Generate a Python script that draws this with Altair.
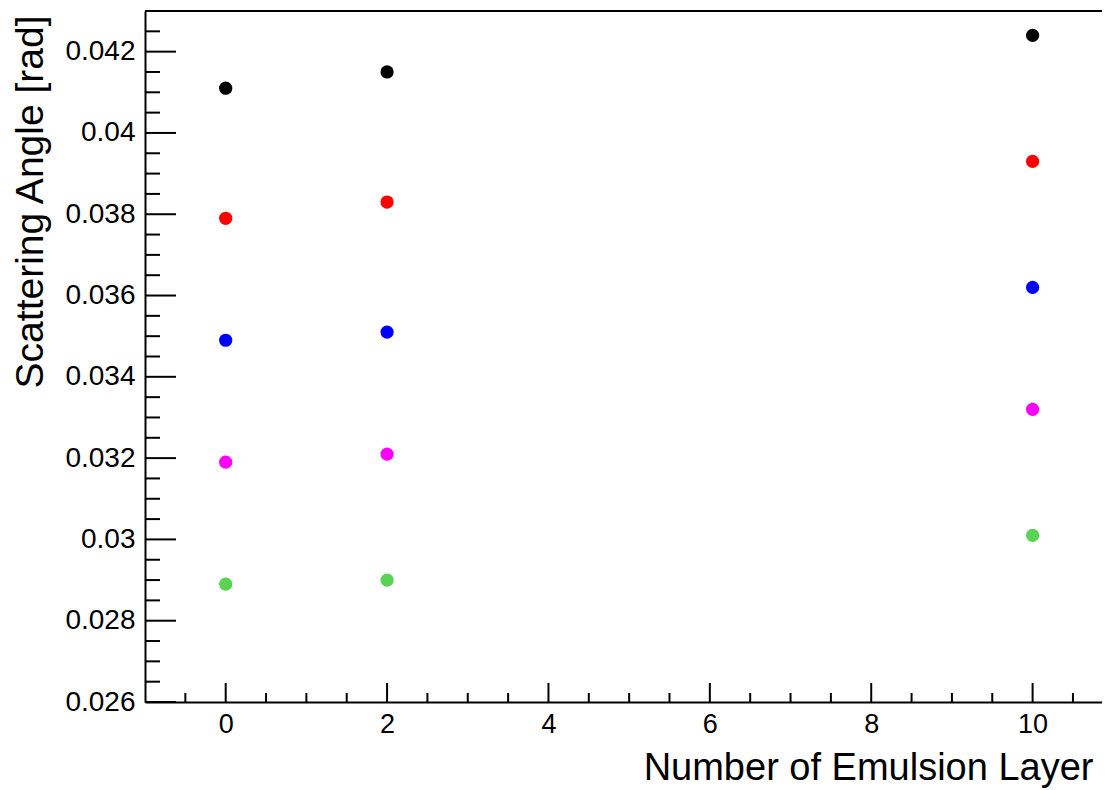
import altair as alt
import pandas as pd

layers = [0, 2, 10]
series_names = ["s1", "s2", "s3", "s4", "s5"]
series_colors = ["#000000", "#ff0000", "#0000ff", "#ff00ff", "#59d354"]
s1 = [0.04110, 0.04150, 0.04240]
s2 = [0.03790, 0.03830, 0.03930]
s3 = [0.03490, 0.03510, 0.03620]
s4 = [0.03190, 0.03210, 0.03320]
s5 = [0.02890, 0.02900, 0.03010]

y_major = [0.026, 0.028, 0.030, 0.032, 0.034, 0.036, 0.038, 0.040, 0.042]
y_minor = [0.0265, 0.027, 0.0275, 0.0285, 0.029, 0.0295, 0.0305, 0.031, 0.0315,
           0.0325, 0.033, 0.0335, 0.0345, 0.035, 0.0355, 0.0365, 0.037, 0.0375,
           0.0385, 0.039, 0.0395, 0.0405, 0.041, 0.0415, 0.0425]
x_major = [0, 2, 4, 6, 8, 10]
x_minor = [-0.5, 0.5, 1, 1.5, 2.5, 3, 3.5, 4.5, 5, 5.5, 6.5, 7, 7.5, 8.5, 9, 9.5, 10.5]

rows = []
for name, vals in zip(series_names, [s1, s2, s3, s4, s5]):
    for x, v in zip(layers, vals):
        rows.append({"layer": x, "angle": v, "series": name})
df = pd.DataFrame(rows)

W, H = 957, 691
FONT = "Liberation Sans"

xscale = alt.Scale(domain=[-1, 10.86], nice=False, zero=False)
yscale = alt.Scale(domain=[0.026, 0.043], nice=False, zero=False)

points = alt.Chart(df).mark_circle(size=175, opacity=1).encode(
    x=alt.X("layer:Q", scale=xscale,
            axis=alt.Axis(values=x_major, format="~g", ticks=False, grid=False,
                          labelFontSize=27, labelFont=FONT, labelColor="black",
                          labelPadding=9, domainColor="black", domainWidth=2,
                          title="Number of Emulsion Layer", titleFont=FONT,
                          titleFontSize=38, titleFontWeight="normal", titleColor="black",
                          titleX=948, titleY=77, titleAlign="right",
                          titleBaseline="alphabetic", titleAnchor="end")),
    y=alt.Y("angle:Q", scale=yscale,
            axis=alt.Axis(values=y_major, format="~g", ticks=False, grid=False,
                          labelFontSize=28, labelFont=FONT, labelColor="black",
                          labelPadding=10, domainColor="black", domainWidth=2,
                          title="Scattering Angle [rad]", titleFont=FONT,
                          titleFontSize=39, titleFontWeight="normal", titleColor="black",
                          titleX=-115, titleY=4, titleAngle=-90, titleAlign="right",
                          titleBaseline="middle", titleAnchor="end")),
    color=alt.Color("series:N", scale=alt.Scale(domain=series_names, range=series_colors),
                    legend=None),
)

ymaj = alt.Chart(pd.DataFrame({"v": y_major})).mark_rule(color="black", strokeWidth=2).encode(
    y=alt.Y("v:Q", scale=yscale), x=alt.value(0), x2=alt.value(31))
ymin = alt.Chart(pd.DataFrame({"v": y_minor})).mark_rule(color="black", strokeWidth=2).encode(
    y=alt.Y("v:Q", scale=yscale), x=alt.value(0), x2=alt.value(15))
xmaj = alt.Chart(pd.DataFrame({"v": x_major})).mark_rule(color="black", strokeWidth=2).encode(
    x=alt.X("v:Q", scale=xscale), y=alt.value(H), y2=alt.value(H - 19))
xmin = alt.Chart(pd.DataFrame({"v": x_minor})).mark_rule(color="black", strokeWidth=2).encode(
    x=alt.X("v:Q", scale=xscale), y=alt.value(H), y2=alt.value(H - 9))
topline = alt.Chart(pd.DataFrame({"v": [0]})).mark_rule(color="black", strokeWidth=2).encode(
    y=alt.value(0), x=alt.value(0), x2=alt.value(W))

chart = alt.layer(topline, ymaj, ymin, xmaj, xmin, points).properties(
    width=W, height=H,
    autosize=alt.AutoSizeParams(type="none"),
    padding={"left": 137, "top": 3, "right": 0, "bottom": 86},
).configure_view(stroke=None).configure(background="white")

chart.save("out.html", embed_options={"renderer": "svg", "actions": False})
